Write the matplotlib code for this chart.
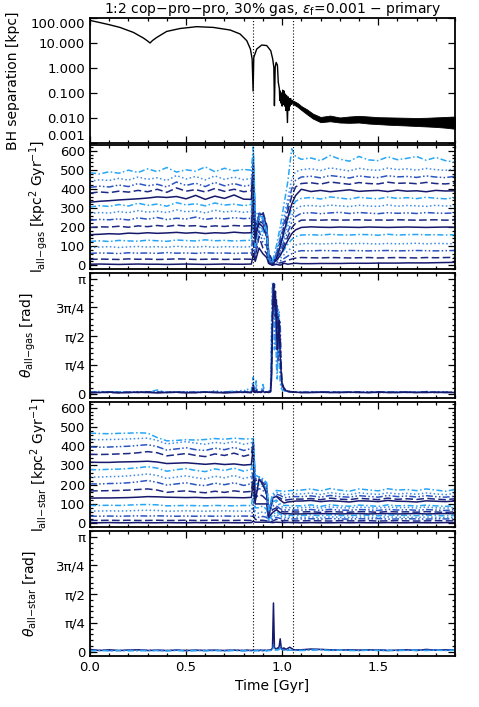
import numpy as np
import matplotlib
matplotlib.use("Agg")
import matplotlib.pyplot as plt
from matplotlib.ticker import MultipleLocator, FixedLocator, LogLocator, NullFormatter, FixedFormatter

plt.rcParams['font.family'] = ['DejaVu Sans']
plt.rcParams['mathtext.fontset'] = 'dejavusans'

# ---------------- time grids ----------------
T_PRE = [0.00, 0.05, 0.10, 0.15, 0.20, 0.25, 0.30, 0.35, 0.40, 0.45, 0.50, 0.55, 0.60, 0.65, 0.70, 0.75, 0.80, 0.84]
T_MER = [0.85, 0.86, 0.88, 0.90, 0.92, 0.93, 0.95, 0.97, 0.99, 1.01, 1.03, 1.05, 1.07]
T_POST = [1.10, 1.15, 1.20, 1.25, 1.30, 1.35, 1.40, 1.45, 1.50, 1.55, 1.60, 1.65, 1.70, 1.75, 1.80, 1.85, 1.90]
TH_PRE = [0.00, 0.05, 0.10, 0.15, 0.20, 0.25, 0.30, 0.35, 0.40, 0.45, 0.50, 0.55, 0.60, 0.65, 0.70, 0.75, 0.80, 0.82]
TH_MER = [0.84, 0.85, 0.855, 0.86, 0.865, 0.87, 0.88, 0.89, 0.90, 0.91, 0.92, 0.93, 0.94, 0.945, 0.95,
          0.955, 0.96, 0.965, 0.97, 0.975, 0.98, 0.985, 0.99, 0.995, 1.00, 1.01, 1.02, 1.04, 1.06]

# ---------------- BH separation ----------------
BH_T = [0.000, 0.050, 0.100, 0.156, 0.226, 0.278, 0.300, 0.3125, 0.325, 0.347, 0.399, 0.469, 0.556, 0.642,
        0.730, 0.781, 0.816, 0.835, 0.844, 0.849, 0.8525, 0.868, 0.894, 0.920, 0.941, 0.951, 0.957, 0.960,
        0.964, 0.9688, 0.9757, 0.980, 0.9857, 0.988, 0.990, 0.993, 0.9965, 1.000, 1.003, 1.007, 1.010,
        1.013, 1.017, 1.020, 1.023, 1.0278, 1.031, 1.035, 1.038, 1.0417, 1.045, 1.050, 1.053, 1.0573]
BH_SEP = [80, 66, 54, 42, 26.5, 15.8, 12, 10.0, 12.5, 16.6, 29, 38, 45, 42,
          33, 23, 12.4, 5.75, 2.3, 0.12, 2.65, 5.75, 8.3, 7.9, 4.9, 2.3, 1.06, 0.031,
          1.06, 1.67, 1.3, 0.27, 0.15, 0.05, 0.12, 0.04, 0.10, 0.03, 0.13, 0.035, 0.12,
          0.03, 0.09, 0.02, 0.08, 0.0066, 0.07, 0.02, 0.06, 0.03, 0.06, 0.035, 0.05, 0.042]
BAND_T = [1.057, 1.08, 1.10, 1.13, 1.16, 1.20, 1.25, 1.30, 1.35, 1.40, 1.45, 1.50,
          1.55, 1.60, 1.65, 1.70, 1.75, 1.80, 1.85, 1.90]
BAND_HI = [0.050, 0.040, 0.030, 0.022, 0.015, 0.011, 0.0125, 0.0105, 0.0115, 0.0122,
           0.0115, 0.0108, 0.0106, 0.0104, 0.0102, 0.0100, 0.0102, 0.0106, 0.0110, 0.0115]
BAND_LO = [0.036, 0.028, 0.021, 0.014, 0.0095, 0.0068, 0.0074, 0.0066, 0.0064, 0.0066,
           0.0060, 0.0057, 0.0054, 0.0052, 0.0050, 0.0048, 0.0046, 0.0044, 0.0041, 0.0037]

# ---------------- gas angular momentum (15 radial bins) ----------------
GAS_0 = [5,6,5,4,5,6,5,5,4,5,6,5,4,5,6,5,5,6] + [60,20,90,60,40,10,0,5,0,10,5,8,10] + [8,8,9,9,9,10,10,10,11,11,11,12,12,12,13,14,15]
GAS_1 = [30,32,31,30,33,31,32,30,31,33,32,30,31,32,30,31,32,31] + [120,40,150,90,60,20,5,10,12,18,26,32,37] + [40,39,38,40,39,38,39,40,38,39,40,39,38,40,39,40,41]
GAS_2 = [62,64,63,61,65,63,64,62,66,63,64,62,65,63,64,62,63,64] + [200,60,180,120,100,30,10,15,22,35,48,60,70] + [76,75,77,76,75,77,76,75,76,77,75,76,77,76,75,76,77]
GAS_3 = [92,95,97,93,96,98,95,97,94,99,96,95,98,94,97,96,95,97] + [260,80,210,150,120,40,15,25,35,55,75,92,105] + [112,114,111,113,115,112,114,113,111,114,112,113,115,112,114,113,112]
GAS_4 = [125,128,124,130,127,126,131,128,125,132,129,127,133,128,130,127,129,131] + [330,100,230,180,150,50,20,35,50,80,110,135,150] + [158,160,157,162,159,158,161,160,157,162,158,160,161,159,160,158,160]
GAS_5 = [160,162,165,163,168,166,170,167,169,172,168,171,166,170,168,173,169,170] + [400,120,260,270,200,60,10,25,50,90,130,165,185] + [198,201,199,198,200,199,198,200,199,198,199,200,199,198,199,200,199]
GAS_6 = [198,201,200,204,199,206,202,208,203,210,205,207,201,206,203,208,205,207] + [430,150,270,280,210,70,20,35,65,105,150,195,220] + [236,237,236,238,236,237,238,236,237,236,238,237,236,237,238,236,237]
GAS_7 = [235,240,238,243,237,248,241,250,239,246,242,252,240,247,243,249,244,246] + [460,170,280,250,190,40,10,40,75,125,175,225,255] + [272,275,270,274,277,271,276,273,270,275,272,274,271,276,273,272,274]
GAS_8 = [270,276,273,281,275,286,278,283,276,290,280,285,274,288,279,284,277,282] + [490,190,260,240,180,30,0,35,85,145,205,260,295] + [310,313,308,315,311,307,314,310,308,316,309,313,311,308,314,310,312]
GAS_9 = [305,312,308,318,310,325,314,320,309,328,316,322,311,326,315,320,312,318] + [520,200,240,230,170,20,0,45,95,165,235,300,335] + [350,355,347,358,352,346,356,351,348,357,350,354,349,356,351,348,353]
GAS_10 = [330,335,338,342,345,348,352,358,355,360,348,366,345,362,350,368,346,345] + [510,150,220,200,150,10,0,35,100,175,250,320,365] + [398,386,392,385,390,395,387,390,392,386,393,388,390,385,392,389,390]
GAS_11 = [378,384,380,388,383,392,385,398,382,405,388,396,384,402,387,398,385,390] + [540,210,230,220,160,20,10,55,120,200,285,360,410] + [428,432,425,436,430,424,433,428,426,435,429,431,427,434,428,426,431]
GAS_12 = [408,414,410,420,412,428,416,424,410,436,418,430,412,434,416,428,414,420] + [570,230,240,230,160,30,10,60,140,225,315,400,445] + [462,466,458,470,464,457,468,462,459,469,463,465,460,468,462,459,466]
GAS_13 = [440,448,444,455,446,462,450,458,444,470,452,465,447,468,450,462,448,455] + [590,250,250,240,170,30,10,70,160,255,350,450,490] + [500,506,496,510,502,494,508,500,497,509,501,505,498,507,501,497,504]
GAS_14 = [485,478,490,482,498,486,505,490,512,488,500,493,515,490,508,495,502,498] + [620,280,260,250,180,40,20,100,200,320,440,610,570] + [555,562,548,575,556,545,570,552,548,568,553,560,570,550,565,548,540]

# ---------------- stellar angular momentum ----------------
STAR_0 = [2,2,3,2,2,3,2,2,3,2,2,3,2,2,3,2,2,3] + [10,5,5,5,5,5,3,5,4,3,4,3,3] + [2,3,2,2,3,2,3,2,2,3,2,2,3,2,2,3,2]
STAR_1 = [14,14,15,14,15,14,14,15,14,14,15,14,14,15,14,14,15,14] + [40,20,15,15,12,5,10,20,15,12,14,12,12] + [12,13,12,11,13,12,12,13,11,12,13,12,11,12,13,12,12]
STAR_2 = [36,36,37,36,37,38,37,38,37,36,37,36,37,36,37,36,37,36] + [80,40,30,35,30,10,20,30,25,20,24,22,22] + [22,23,21,24,22,21,23,22,24,21,22,23,22,21,23,22,22]
STAR_3 = [63,63,64,63,64,66,67,66,62,63,64,63,62,63,64,63,62,64] + [120,60,50,60,50,15,30,45,35,28,32,30,30] + [30,32,28,33,30,29,32,31,28,33,30,31,29,32,30,28,31]
STAR_4 = [92,92,93,92,94,96,97,95,90,91,92,91,90,92,91,90,92,91] + [160,80,80,90,70,20,40,60,45,38,42,40,40] + [40,43,38,44,40,39,42,41,38,43,40,41,39,42,40,38,41]
STAR_5 = [130,131,131,132,133,135,138,137,135,134,133,134,132,133,134,133,132,134] + [220,100,100,100,100,30,55,70,55,48,50,48,48] + [48,50,49,50,48,49,50,48,49,50,48,49,50,48,49,50,49]
STAR_6 = [168,168,169,170,172,175,178,172,160,165,168,162,158,166,160,168,162,165] + [250,130,150,140,120,30,70,80,65,58,60,58,58] + [58,60,56,61,58,57,60,59,56,61,58,59,57,60,58,56,59]
STAR_7 = [204,204,206,207,210,215,222,212,198,204,210,200,195,208,200,210,196,205] + [280,160,180,170,150,40,90,90,75,68,70,68,68] + [68,71,66,72,68,67,71,69,66,72,68,70,67,71,68,66,70]
STAR_8 = [240,240,242,243,246,250,256,248,232,240,246,236,230,244,236,248,232,242] + [310,180,200,190,170,50,100,110,90,80,82,80,80] + [80,84,78,85,80,79,84,81,78,85,80,82,79,84,80,78,82]
STAR_9 = [278,278,280,281,284,288,294,286,270,278,284,274,268,282,274,286,270,280] + [340,200,210,200,180,60,110,120,100,92,92,90,90] + [90,95,87,96,90,88,94,91,87,95,90,92,89,94,90,87,92]
STAR_10 = [317,316,316,318,319,320,322,318,310,312,314,310,306,310,305,308,302,305] + [400,110,230,200,150,40,130,140,120,105,110,112,115] + [115,118,112,116,114,110,116,115,112,118,114,113,110,116,114,112,115]
STAR_11 = [358,357,358,360,362,366,372,366,350,356,362,352,346,360,352,364,348,358] + [420,220,230,210,190,50,120,140,130,118,122,124,125] + [125,128,122,130,125,122,129,126,122,130,124,127,123,129,125,122,127]
STAR_12 = [396,395,396,398,400,404,408,398,380,386,392,382,378,390,382,394,378,388] + [420,230,240,220,200,60,130,150,145,132,135,138,138] + [138,142,135,144,138,135,143,139,135,144,138,141,136,143,138,135,140]
STAR_13 = [435,434,435,436,438,440,442,430,412,418,424,416,410,420,414,424,410,418] + [430,240,240,220,200,60,140,160,155,148,150,152,152] + [152,157,149,159,152,148,158,153,149,158,152,155,150,157,152,148,155]
STAR_14 = [468,466,465,467,468,470,468,445,428,430,434,432,435,440,436,442,438,438] + [440,250,240,230,210,70,150,170,168,165,168,170,170] + [172,178,168,180,172,166,178,173,168,179,172,175,169,178,172,166,175]

# ---------------- misalignment angles ----------------
THG_0 = [0.05,0.04,0.03,0.05,0.03,0.04,0.03,0.10,0.03,0.04,0.03,0.04,0.05,0.03,0.04,0.07,0.04,0.12] + \
        [0.05,0.45,0.08,0.05,0.35,0.05,0.04,0.06,0.25,0.05,0.06,0.05,0.10,1.50,3.05,2.90,1.20,2.50,0.80,0.40,2.30,1.00,0.30,0.15,0.10,0.08,0.06,0.05,0.04] + \
        [0.04,0.03,0.04,0.03,0.05,0.03,0.04,0.03,0.04,0.05,0.03,0.04,0.03,0.06,0.04,0.03,0.04]
THG_1 = [0.03,0.06,0.04,0.03,0.05,0.03,0.04,0.03,0.05,0.04,0.03,0.05,0.03,0.08,0.03,0.04,0.10,0.05] + \
        [0.04,0.30,0.06,0.04,0.20,0.04,0.05,0.04,0.15,0.04,0.05,0.06,0.12,2.00,2.95,3.05,2.60,1.20,2.20,0.60,1.50,2.25,0.80,0.30,0.15,0.10,0.06,0.04,0.04] + \
        [0.03,0.05,0.03,0.04,0.03,0.04,0.03,0.05,0.03,0.04,0.03,0.04,0.05,0.03,0.04,0.05,0.03]
THG_2 = [0.04,0.03,0.05,0.04,0.03,0.05,0.04,0.05,0.03,0.04,0.05,0.03,0.04,0.03,0.05,0.04,0.03,0.06] + \
        [0.04,0.25,0.05,0.04,0.12,0.05,0.04,0.05,0.10,0.05,0.04,0.05,0.08,0.90,2.60,3.00,2.20,2.80,1.50,2.40,0.90,1.80,2.00,0.50,0.20,0.12,0.08,0.05,0.04] + \
        [0.04,0.03,0.05,0.03,0.04,0.03,0.05,0.04,0.03,0.04,0.05,0.03,0.04,0.04,0.03,0.04,0.04]
THG_3 = [0.03,0.04,0.03,0.03,0.04,0.03,0.05,0.03,0.04,0.03,0.04,0.03,0.04,0.04,0.03,0.04,0.05,0.04] + \
        [0.03,0.18,0.04,0.05,0.10,0.04,0.05,0.04,0.08,0.04,0.05,0.04,0.06,0.60,2.20,2.70,3.00,2.10,2.60,1.80,2.10,1.40,1.60,0.80,0.30,0.15,0.10,0.06,0.04] + \
        [0.03,0.04,0.03,0.05,0.03,0.04,0.04,0.03,0.05,0.03,0.04,0.04,0.03,0.05,0.03,0.04,0.03]
THG_4 = [0.02,0.03,0.04,0.02,0.03,0.04,0.03,0.02,0.03,0.04,0.02,0.03,0.04,0.03,0.02,0.03,0.04,0.03] + \
        [0.03,0.12,0.04,0.03,0.08,0.03,0.04,0.03,0.06,0.03,0.04,0.03,0.05,0.40,1.80,3.00,2.40,2.80,2.00,1.20,1.60,2.00,1.00,0.60,0.25,0.12,0.08,0.05,0.04] + \
        [0.03,0.03,0.04,0.03,0.03,0.04,0.03,0.03,0.04,0.03,0.03,0.04,0.03,0.03,0.04,0.03,0.03]

THS_0 = [0.06,0.03,0.05,0.03,0.04,0.05,0.03,0.04,0.03,0.04,0.03,0.04,0.03,0.04,0.03,0.04,0.03,0.04] + \
        [0.03,0.04,0.03,0.04,0.03,0.04,0.03,0.04,0.03,0.04,0.03,0.04,0.05,0.06,0.10,1.33,0.12,0.08,0.06,0.10,0.08,0.15,0.35,0.12,0.08,0.10,0.06,0.12,0.05] + \
        [0.05,0.07,0.06,0.05,0.04,0.05,0.04,0.05,0.04,0.03,0.04,0.05,0.03,0.06,0.04,0.05,0.04]
THS_1 = [0.03,0.04,0.03,0.03,0.04,0.03,0.04,0.03,0.03,0.04,0.03,0.03,0.04,0.03,0.03,0.04,0.03,0.03] + \
        [0.03,0.04,0.03,0.03,0.04,0.03,0.03,0.04,0.03,0.03,0.04,0.03,0.04,0.05,0.06,0.20,0.08,0.05,0.06,0.05,0.07,0.10,0.15,0.08,0.06,0.05,0.04,0.06,0.04] + \
        [0.04,0.05,0.06,0.04,0.05,0.04,0.03,0.04,0.05,0.04,0.03,0.04,0.05,0.04,0.05,0.04,0.05]
THS_2 = [0.02,0.03,0.02,0.03,0.02,0.03,0.02,0.03,0.02,0.03,0.02,0.03,0.02,0.03,0.02,0.03,0.02,0.03] + \
        [0.02,0.03,0.02,0.03,0.02,0.03,0.02,0.03,0.02,0.03,0.02,0.03,0.03,0.04,0.05,0.10,0.06,0.04,0.05,0.04,0.05,0.06,0.08,0.05,0.04,0.04,0.03,0.04,0.03] + \
        [0.03,0.04,0.05,0.03,0.04,0.03,0.03,0.04,0.03,0.03,0.04,0.03,0.04,0.03,0.04,0.03,0.04]

T_MERGER_START = 0.849
T_MERGER_END = 1.057
THETA_TICKLABELS = ['0', 'π/4', 'π/2', '3π/4', 'π']
SEP_TICKS = [0.001, 0.01, 0.1, 1.0, 10.0, 100.0]

# ---------------- styles ----------------
COLORS = ['#15186b', '#1c2a85', '#2a55c2', '#3f8ce6', '#27a6f7']
STYLES = ['-', (0, (5, 2.2)), (0, (4.5, 1.5, 1, 1.5, 1, 1.5)), (0, (1, 1.6)), (0, (4, 1.6, 1, 1.6))]

gas_lines = [GAS_0, GAS_1, GAS_2, GAS_3, GAS_4, GAS_5, GAS_6, GAS_7, GAS_8, GAS_9, GAS_10, GAS_11, GAS_12, GAS_13, GAS_14]
star_lines = [STAR_0, STAR_1, STAR_2, STAR_3, STAR_4, STAR_5, STAR_6, STAR_7, STAR_8, STAR_9, STAR_10, STAR_11, STAR_12, STAR_13, STAR_14]
thg_lines = [THG_0, THG_1, THG_2, THG_3, THG_4]
ths_lines = [THS_0, THS_1, THS_2]

t_l = np.array(T_PRE + T_MER + T_POST)
t_th = np.array(TH_PRE + TH_MER + T_POST)

W, H = 479, 707
fig = plt.figure(figsize=(W / 100, H / 100), dpi=100)

left = 90 / W
width = (455 - 90) / W
panels_px = [(18, 143), (145, 269), (273, 398), (402, 527), (531, 656)]
axes = []
for top, bot in panels_px:
    ax = fig.add_axes([left, 1 - bot / H, width, (bot - top) / H])
    axes.append(ax)

FS = 9.5
for ax in axes:
    ax.set_xlim(0, 1.9)
    ax.xaxis.set_major_locator(MultipleLocator(0.5))
    ax.xaxis.set_minor_locator(MultipleLocator(0.1))
    ax.tick_params(which='both', direction='in', top=True, right=True, labelsize=FS, width=0.9)
    ax.tick_params(which='major', length=5)
    ax.tick_params(which='minor', length=2.5)
    for s in ax.spines.values():
        s.set_linewidth(1.3)
    ax.axvline(T_MERGER_START, color='k', ls=(0, (1, 1.8)), lw=0.8, zorder=5)
    ax.axvline(T_MERGER_END, color='k', ls=(0, (1, 1.8)), lw=0.8, zorder=5)
    if ax is not axes[-1]:
        ax.tick_params(labelbottom=False)

# Panel 1: BH separation
ax = axes[0]
ax.set_yscale('log')
ax.set_ylim(0.001, 100)
ax.plot(BH_T, BH_SEP, color='k', lw=1.0)
ax.fill_between(BAND_T, BAND_LO, BAND_HI, color='k', lw=0.6)
ax.yaxis.set_major_locator(FixedLocator(SEP_TICKS))
ax.yaxis.set_minor_locator(LogLocator(base=10, subs=np.arange(2, 10)))
ax.yaxis.set_minor_formatter(NullFormatter())
ax.yaxis.set_major_formatter(FixedFormatter(['%.3f' % v for v in SEP_TICKS]))
ax.set_ylabel('BH separation [kpc]', fontsize=FS + 0.5)
ax.yaxis.set_label_coords((20 - 90) / 365, 0.5)
ax.set_title('1:2 cop−pro−pro, 30% gas, $\\epsilon_{\\rm f}$=0.001 − primary', fontsize=FS + 0.5, pad=3)


def angmom_panel(ax, lines, label):
    for i, y in enumerate(lines):
        k = i % 5
        ax.plot(t_l, y, color=COLORS[k], ls=STYLES[k], lw=1.1)
    ax.set_ylim(-20, 630)
    ax.yaxis.set_major_locator(MultipleLocator(100))
    ax.yaxis.set_minor_locator(MultipleLocator(20))
    ax.set_ylabel(label, fontsize=FS + 0.5)
    ax.yaxis.set_label_coords((50 - 90) / 365, 0.5)


def theta_panel(ax, lines, label, idx):
    for j, y in zip(idx, lines):
        ax.plot(t_th, y, color=COLORS[j], ls=STYLES[j], lw=1.1)
    ax.set_ylim(-0.12, 3.3)
    ax.yaxis.set_major_locator(FixedLocator([0, np.pi / 4, np.pi / 2, 3 * np.pi / 4, np.pi]))
    ax.yaxis.set_major_formatter(FixedFormatter(THETA_TICKLABELS))
    ax.yaxis.set_minor_locator(MultipleLocator(np.pi / 20))
    ax.set_ylabel(label, fontsize=FS + 0.5)
    ax.yaxis.set_label_coords((38 - 90) / 365, 0.5)


angmom_panel(axes[1], gas_lines, r'l$_{\rm all\!-\!gas}$ [kpc$^2$ Gyr$^{-1}$]')
theta_panel(axes[2], thg_lines, r'$\theta_{\rm all\!-\!gas}$ [rad]', [4, 3, 2, 1, 0])
angmom_panel(axes[3], star_lines, r'l$_{\rm all\!-\!star}$ [kpc$^2$ Gyr$^{-1}$]')
theta_panel(axes[4], ths_lines, r'$\theta_{\rm all\!-\!star}$ [rad]', [0, 2, 4])

axes[-1].set_xticks([0.0, 0.5, 1.0, 1.5])
axes[-1].set_xticklabels(['0.0', '0.5', '1.0', '1.5'])
axes[-1].set_xlabel('Time [Gyr]', fontsize=FS + 0.5)

# IDL-like label placement at extremes of the log axis
fig.canvas.draw()
labs = axes[0].get_yticklabels()
labs[0].set_va('bottom')
labs[-1].set_va('top')

fig.savefig('out.png', dpi=100)
